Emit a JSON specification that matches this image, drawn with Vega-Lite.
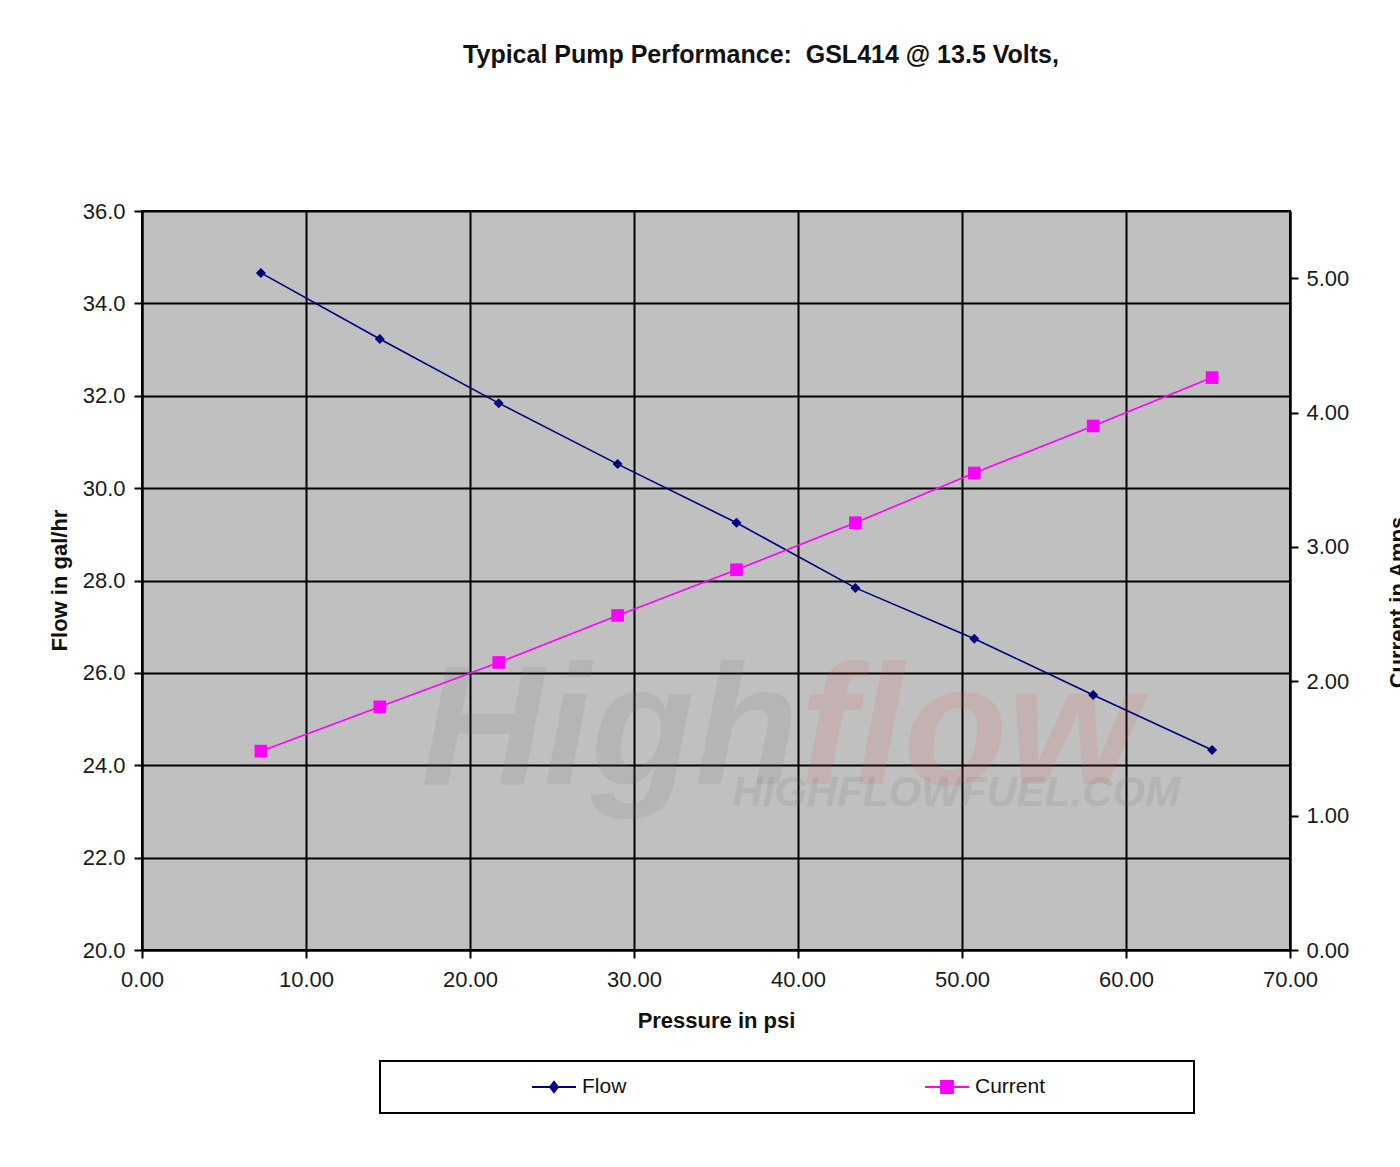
{
  "$schema": "https://vega.github.io/schema/vega-lite/v6.json",
  "width": 1148,
  "height": 739,
  "autosize": {"type": "none"},
  "padding": {"left": 142, "top": 211, "right": 110, "bottom": 217},
  "background": "white",
  "title": {
    "text": "Typical Pump Performance:\u00a0 GSL414 @ 13.5 Volts,",
    "font": "Liberation Sans",
    "fontSize": 25,
    "fontWeight": "bold",
    "color": "#111111",
    "anchor": "middle",
    "offset": 132,
    "dx": 45
  },
  "config": {
    "view": {"fill": "#c0c0c0", "stroke": "#000000", "strokeWidth": 2},
    "axis": {
      "labelFont": "Liberation Sans",
      "labelFontSize": 22,
      "labelColor": "#1a1a1a",
      "labelFlush": false,
      "labelOverlap": false,
      "titleFont": "Liberation Sans",
      "titleFontSize": 22,
      "titleFontWeight": "bold",
      "titleColor": "#111111",
      "domainColor": "#000000",
      "domainWidth": 2,
      "tickColor": "#000000",
      "tickWidth": 2,
      "tickSize": 8,
      "gridColor": "#000000",
      "gridWidth": 2,
      "gridOpacity": 1
    }
  },
  "datasets": {
    "pump": [
      {"psi": 7.25, "series": "Flow", "value": 34.66},
      {"psi": 14.5, "series": "Flow", "value": 33.23},
      {"psi": 21.75, "series": "Flow", "value": 31.84},
      {"psi": 29.0, "series": "Flow", "value": 30.52},
      {"psi": 36.25, "series": "Flow", "value": 29.25},
      {"psi": 43.5, "series": "Flow", "value": 27.84},
      {"psi": 50.75, "series": "Flow", "value": 26.74},
      {"psi": 58.0, "series": "Flow", "value": 25.52},
      {"psi": 65.25, "series": "Flow", "value": 24.33},
      {"psi": 7.25, "series": "Current", "value": 1.48},
      {"psi": 14.5, "series": "Current", "value": 1.81},
      {"psi": 21.75, "series": "Current", "value": 2.14},
      {"psi": 29.0, "series": "Current", "value": 2.49},
      {"psi": 36.25, "series": "Current", "value": 2.83},
      {"psi": 43.5, "series": "Current", "value": 3.18},
      {"psi": 50.75, "series": "Current", "value": 3.55},
      {"psi": 58.0, "series": "Current", "value": 3.90},
      {"psi": 65.25, "series": "Current", "value": 4.26}
    ],
    "watermark": [
      {"text": "High", "psi": 17.0, "value": 23.6},
      {"text": "flow", "psi": 40.1, "value": 23.6},
      {"text": "HIGHFLOWFUEL.COM", "psi": 63.3, "value": 23.12}
    ]
  },
  "layer": [
    {
      "layer": [
        {
          "data": {"name": "watermark"},
          "transform": [{"filter": "datum.text === 'High'"}],
          "mark": {"type": "text", "font": "Liberation Sans", "fontSize": 170, "fontWeight": "bold", "fontStyle": "italic", "align": "left", "baseline": "alphabetic", "color": "#6e6e6e", "opacity": 0.12},
          "encoding": {
            "x": {"field": "psi", "type": "quantitative", "title": "Pressure in psi", "scale": {"domain": [0, 70], "nice": false, "zero": false}},
            "y": {"field": "value", "type": "quantitative", "title": "Flow in gal/hr", "scale": {"domain": [20, 36], "nice": false, "zero": false}},
            "text": {"field": "text"}
          }
        },
        {
          "data": {"name": "watermark"},
          "transform": [{"filter": "datum.text === 'flow'"}],
          "mark": {"type": "text", "font": "Liberation Sans", "fontSize": 170, "fontWeight": "bold", "fontStyle": "italic", "align": "left", "baseline": "alphabetic", "color": "#e05050", "opacity": 0.12},
          "encoding": {
            "x": {"field": "psi", "type": "quantitative", "title": "Pressure in psi", "scale": {"domain": [0, 70], "nice": false, "zero": false}},
            "y": {"field": "value", "type": "quantitative", "title": "Flow in gal/hr", "scale": {"domain": [20, 36], "nice": false, "zero": false}},
            "text": {"field": "text"}
          }
        },
        {
          "data": {"name": "watermark"},
          "transform": [{"filter": "datum.text === 'HIGHFLOWFUEL.COM'"}],
          "mark": {"type": "text", "font": "Liberation Sans", "fontSize": 42, "fontWeight": "bold", "fontStyle": "italic", "align": "right", "baseline": "alphabetic", "color": "#6e6e6e", "opacity": 0.14},
          "encoding": {
            "x": {"field": "psi", "type": "quantitative", "title": "Pressure in psi", "scale": {"domain": [0, 70], "nice": false, "zero": false}},
            "y": {"field": "value", "type": "quantitative", "title": "Flow in gal/hr", "scale": {"domain": [20, 36], "nice": false, "zero": false}},
            "text": {"field": "text"}
          }
        },
        {
          "data": {"name": "pump"},
          "transform": [{"filter": "datum.series === 'Flow'"}],
          "mark": {"type": "line", "strokeWidth": 1.6},
          "encoding": {
            "x": {
              "field": "psi", "type": "quantitative", "title": "Pressure in psi",
              "scale": {"domain": [0, 70], "nice": false, "zero": false},
              "axis": {"values": [0, 10, 20, 30, 40, 50, 60, 70], "format": ".2f", "grid": true, "labelPadding": 11, "titleX": 574, "titleY": 77, "titleAlign": "center", "titleBaseline": "alphabetic"}
            },
            "y": {
              "field": "value", "type": "quantitative", "title": "Flow in gal/hr",
              "scale": {"domain": [20, 36], "nice": false, "zero": false},
              "axis": {"orient": "left", "values": [20, 22, 24, 26, 28, 30, 32, 34, 36], "format": ".1f", "grid": true, "labelPadding": 9, "titleAngle": -90, "titleX": -76, "titleY": 369, "titleAlign": "center", "titleBaseline": "alphabetic"}
            },
            "color": {
              "field": "series", "type": "nominal",
              "scale": {"domain": ["Flow", "gapA", "Current", "gapB"], "range": ["#000080", "#ffffff", "#ff00ff", "#ffffff"]},
              "legend": {
                "orient": "none", "legendX": 238, "legendY": 850,
                "direction": "horizontal", "columns": 4,
                "title": "\u00a0", "titleOrient": "left", "titleFontSize": 1, "titlePadding": 136,
                "padding": 15, "strokeColor": "#000000", "fillColor": "#ffffff",
                "symbolSize": 1936, "clipHeight": 22, "symbolStrokeWidth": 2,
                "labelFont": "Liberation Sans", "labelFontSize": 21, "labelColor": "#111111", "labelOffset": 5, "labelLimit": 400,
                "columnPadding": 0,
                "labelExpr": "datum.value === 'gapA' ? '000000000000000000000' : (datum.value === 'gapB' ? '0000000' : datum.label)",
                "encode": {
                  "legend": {"update": {"strokeWidth": {"value": 2}}},
                  "labels": {"update": {"opacity": {"signal": "datum.value === 'gapA' || datum.value === 'gapB' ? 0 : 1"}}},
                  "symbols": {"update": {
                    "shape": {"signal": "datum.value === 'Flow' ? 'M-1,0L1,0M0,-0.23L0.18,0L0,0.23L-0.18,0Z' : 'M-1,0L1,0M-0.27,-0.27L0.27,-0.27L0.27,0.27L-0.27,0.27Z'"},
                    "fill": {"signal": "datum.value === 'Flow' ? '#000080' : '#ff00ff'"},
                    "stroke": {"signal": "datum.value === 'Flow' ? '#000080' : '#ff00ff'"},
                    "opacity": {"signal": "datum.value === 'gapA' || datum.value === 'gapB' ? 0 : 1"},
                    "strokeWidth": {"value": 2}
                  }}
                }
              }
            }
          }
        },
        {
          "data": {"name": "pump"},
          "transform": [{"filter": "datum.series === 'Flow'"}],
          "mark": {"type": "point", "shape": "diamond", "filled": true, "size": 100, "color": "#000080", "opacity": 1},
          "encoding": {
            "x": {"field": "psi", "type": "quantitative", "title": "Pressure in psi", "scale": {"domain": [0, 70], "nice": false, "zero": false}},
            "y": {"field": "value", "type": "quantitative", "title": "Flow in gal/hr", "scale": {"domain": [20, 36], "nice": false, "zero": false}}
          }
        }
      ]
    },
    {
      "layer": [
        {
          "data": {"name": "pump"},
          "transform": [{"filter": "datum.series === 'Current'"}],
          "mark": {"type": "line", "strokeWidth": 1.6},
          "encoding": {
            "x": {"field": "psi", "type": "quantitative", "title": "Pressure in psi", "scale": {"domain": [0, 70], "nice": false, "zero": false}},
            "y": {
              "field": "value", "type": "quantitative", "title": "Current in Amps",
              "scale": {"domain": [0, 5.5], "nice": false, "zero": false},
              "axis": {"orient": "right", "values": [0, 1, 2, 3, 4, 5], "format": ".2f", "grid": false, "labelPadding": 8, "titleAngle": -90, "titleX": 114, "titleY": 391, "titleAlign": "center", "titleBaseline": "alphabetic"}
            },
            "color": {"field": "series", "type": "nominal", "scale": {"domain": ["Flow", "gapA", "Current", "gapB"], "range": ["#000080", "#ffffff", "#ff00ff", "#ffffff"]}}
          }
        },
        {
          "data": {"name": "pump"},
          "transform": [{"filter": "datum.series === 'Current'"}],
          "mark": {"type": "point", "shape": "square", "filled": true, "size": 160, "color": "#ff00ff", "opacity": 1},
          "encoding": {
            "x": {"field": "psi", "type": "quantitative", "title": "Pressure in psi", "scale": {"domain": [0, 70], "nice": false, "zero": false}},
            "y": {"field": "value", "type": "quantitative", "title": "Current in Amps", "scale": {"domain": [0, 5.5], "nice": false, "zero": false}}
          }
        }
      ]
    }
  ],
  "resolve": {"scale": {"y": "independent"}, "axis": {"y": "independent"}}
}
